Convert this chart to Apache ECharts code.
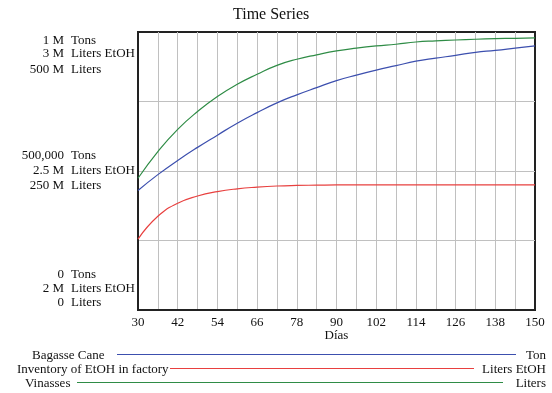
<!DOCTYPE html>
<html>
<head>
<meta charset="utf-8">
<script src="https://cdn.jsdelivr.net/npm/echarts@6/dist/echarts.min.js"></script>
<style>
  html, body { margin: 0; padding: 0; background: #fff; }
  #chart { width: 552px; height: 393px; }
</style>
</head>
<body>
<div id="chart"></div>
<script>
// values, one point every 6 days
const days = [30, 36, 42, 48, 54, 60, 66, 72, 78, 84, 90, 96, 102, 108, 114, 120, 126, 132, 138, 144, 150];
const bagasseCane = [430000, 487000, 538000, 585000, 629000, 672000, 710000, 745000, 774000, 800000, 825000,
  845000, 863000, 879000, 895000, 906000, 916000, 927000, 934000, 942000, 950000];
const etohInventory = [2255000, 2337000, 2384000, 2410000, 2426000, 2436000, 2442000, 2446000, 2448000, 2449000, 2450000,
  2450000, 2450000, 2450000, 2450000, 2450000, 2450000, 2450000, 2450000, 2450000, 2450000];
const vinasses = [237e6, 285e6, 325e6, 357e6, 384e6, 406e6, 424e6, 440e6, 451e6, 459e6, 466e6,
  471e6, 475e6, 478e6, 482e6, 484e6, 485.6e6, 487e6, 488e6, 488.7e6, 489.5e6];

const xTicks = [30, 42, 54, 66, 78, 90, 102, 114, 126, 138, 150];
const tonsTicks = { 0: '0', 500000: '500,000', 1000000: '1 M' };
const etohTicks = { 2000000: '2 M', 2500000: '2.5 M', 3000000: '3 M' };
const litersTicks = { 0: '0', 250000000: '250 M', 500000000: '500 M' };

const FONT = 'Liberation Serif';
const ink = '#111';

// rich tokens are laid out from the right, so the unit column needs its own width
const measure = document.createElement('canvas').getContext('2d');
measure.font = '13px "' + FONT + '"';

// each axis draws one line of the stacked left labels; offsets push it up/down from the tick
function stackedLabel(ticks, unit, offsets, min, max) {
  const unitPad = Math.max(0, 65 - measure.measureText(unit).width);
  const rich = {};
  ['bot', 'mid', 'top'].forEach((k, i) => {
    const d = offsets[i];
    const va = d > 0 ? 'bottom' : 'top';
    rich['sp' + k] = { lineHeight: 2 * Math.abs(d) + 14, width: 1 };
    rich['v' + k] = { padding: [0, 7, 0, 0], lineHeight: 14, verticalAlign: va, fontFamily: FONT, fontSize: 13, color: ink };
    rich['u' + k] = { padding: [0, unitPad, 0, 0], lineHeight: 14, verticalAlign: va, fontFamily: FONT, fontSize: 13, color: ink };
  });
  return {
    margin: 2,
    rich: rich,
    formatter: function (v) {
      const t = ticks[v];
      if (t === undefined) return '';
      const k = v === min ? 'bot' : (v === max ? 'top' : 'mid');
      return '{sp' + k + '| }{v' + k + '|' + t + '}{u' + k + '|' + unit + '}';
    }
  };
}

const chart = echarts.init(document.getElementById('chart'));

const legendRows = [
  { name: 'Bagasse Cane', unit: 'Ton', color: '#3c4fae', x: 32, y: 356, x1: 117, x2: 516 },
  { name: 'Inventory of EtOH in factory', unit: 'Liters EtOH', color: '#e8403f', x: 17, y: 370, x1: 170, x2: 474 },
  { name: 'Vinasses', unit: 'Liters', color: '#2f8c46', x: 25, y: 384, x1: 77, x2: 503 }
];
const graphic = [];
legendRows.forEach(r => {
  graphic.push({ type: 'text', style: { x: r.x, y: r.y, text: r.name, fill: ink, font: '13px "' + FONT + '"', verticalAlign: 'middle' } });
  graphic.push({ type: 'line', shape: { x1: r.x1, y1: r.y - 1.5, x2: r.x2, y2: r.y - 1.5 }, style: { stroke: r.color, lineWidth: 1.2 } });
  graphic.push({ type: 'text', style: { x: 546, y: r.y, text: r.unit, fill: ink, font: '13px "' + FONT + '"', align: 'right', verticalAlign: 'middle' } });
});

const option = {
  animation: false,
  backgroundColor: '#fff',
  title: {
    text: 'Time Series',
    left: 228,
    top: 2,
    textStyle: { fontFamily: FONT, fontSize: 16, fontWeight: 'normal', color: ink }
  },
  grid: {
    left: 138, right: 17, top: 32, bottom: 83,
    outerBoundsMode: 'none',
    show: true, borderColor: '#222', borderWidth: 2, backgroundColor: 'transparent'
  },
  xAxis: {
    type: 'value',
    min: 30, max: 150, interval: 6,
    name: 'Días',
    nameLocation: 'middle',
    nameGap: 19,
    nameMoveOverlap: false,
    nameTextStyle: { fontFamily: FONT, fontSize: 13, color: ink },
    axisLine: { show: true, lineStyle: { color: '#222', width: 2 } },
    axisTick: { show: false },
    splitLine: { show: true, showMinLine: false, showMaxLine: false, lineStyle: { color: '#c0c0c0', width: 1 } },
    axisLabel: {
      margin: 6,
      fontFamily: FONT, fontSize: 13, color: ink,
      formatter: v => xTicks.includes(v) ? String(v) : ''
    }
  },
  yAxis: [
    {
      type: 'value', position: 'left', offset: 0, min: 0, max: 1000000, interval: 250000,
      axisLine: { show: true, lineStyle: { color: '#222', width: 2 } },
      axisTick: { show: false },
      splitLine: { show: true, showMinLine: false, showMaxLine: false, lineStyle: { color: '#c0c0c0', width: 1 } },
      axisLabel: stackedLabel(tonsTicks, 'Tons', [-35, -15, 8], 0, 1000000)
    },
    {
      type: 'value', position: 'left', offset: 0, min: 2000000, max: 3000000, interval: 250000,
      axisLine: { show: false }, axisTick: { show: false }, splitLine: { show: false },
      axisLabel: stackedLabel(etohTicks, 'Liters EtOH', [-21, 0, 21.5], 2000000, 3000000)
    },
    {
      type: 'value', position: 'left', offset: 0, min: 0, max: 500000000, interval: 125000000,
      axisLine: { show: false }, axisTick: { show: false }, splitLine: { show: false },
      axisLabel: stackedLabel(litersTicks, 'Liters', [-7, 14, 37], 0, 500000000)
    }
  ],
  series: [
    {
      name: 'Bagasse Cane', type: 'line', yAxisIndex: 0, smooth: true, symbol: 'none',
      lineStyle: { color: '#3c4fae', width: 1.2 },
      data: days.map((d, i) => [d, bagasseCane[i]])
    },
    {
      name: 'Inventory of EtOH in factory', type: 'line', yAxisIndex: 1, smooth: true, symbol: 'none',
      lineStyle: { color: '#e8403f', width: 1.2 },
      data: days.map((d, i) => [d, etohInventory[i]])
    },
    {
      name: 'Vinasses', type: 'line', yAxisIndex: 2, smooth: true, symbol: 'none',
      lineStyle: { color: '#2f8c46', width: 1.2 },
      data: days.map((d, i) => [d, vinasses[i]])
    }
  ],
  graphic: graphic
};

chart.setOption(option);
</script>
</body>
</html>
